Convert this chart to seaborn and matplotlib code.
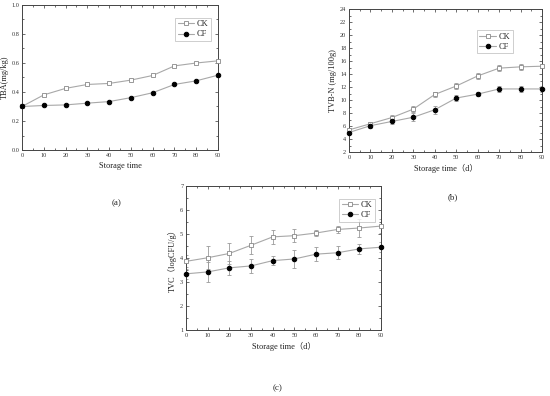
import numpy as np
import pandas as pd
import matplotlib
matplotlib.use("Agg")
import matplotlib.pyplot as plt
import seaborn as sns
from matplotlib.ticker import MultipleLocator

sns.set_theme(style="ticks")
plt.rcParams['font.family'] = ['Liberation Serif', 'Noto Sans CJK SC']

days = [0, 10, 20, 30, 40, 50, 60, 70, 80, 90]
groups = ["CK", "CF"]

tba_ck = [0.30, 0.38, 0.425, 0.452, 0.459, 0.482, 0.514, 0.580, 0.600, 0.615]
tba_cf = [0.30, 0.307, 0.311, 0.323, 0.334, 0.361, 0.395, 0.452, 0.477, 0.516]

tvbn_ck = [5.4, 6.35, 7.3, 8.6, 10.85, 12.15, 13.7, 14.9, 15.1, 15.2]
tvbn_cf = [5.0, 6.05, 6.7, 7.35, 8.5, 10.3, 10.9, 11.7, 11.7, 11.7]
tvbn_ck_err = [0.3, 0.3, 0.4, 0.5, 0.35, 0.4, 0.4, 0.45, 0.45, 0.3]
tvbn_cf_err = [0.3, 0.3, 0.35, 0.6, 0.6, 0.4, 0.3, 0.5, 0.4, 0.4]

tvc_ck = [3.86, 4.01, 4.19, 4.53, 4.88, 4.93, 5.04, 5.19, 5.25, 5.33]
tvc_cf = [3.34, 3.42, 3.59, 3.67, 3.89, 3.96, 4.16, 4.22, 4.38, 4.45]
tvc_ck_err = [0.25, 0.47, 0.45, 0.38, 0.28, 0.27, 0.14, 0.13, 0.38, 0.3]
tvc_cf_err = [0.2, 0.41, 0.3, 0.3, 0.2, 0.36, 0.29, 0.27, 0.2, 0.2]

line_col = "#a8a8a8"
FIG_W, FIG_H = 550, 396
fig = plt.figure(figsize=(5.5, 3.96), dpi=100)
fig.patch.set_facecolor("white")


def px_axes(x0, y0, x1, y1):
    return fig.add_axes([x0 / FIG_W, 1 - y1 / FIG_H, (x1 - x0) / FIG_W, (y1 - y0) / FIG_H])


def draw(ax, ck, cf, ck_err, cf_err, ylim, ymaj, ymin, ylabel, xlabel, legend_loc, fmt):
    df = pd.DataFrame({
        "day": days * 2,
        "value": list(ck) + list(cf),
        "group": ["CK"] * len(days) + ["CF"] * len(days),
    })
    if ck_err is not None:
        ax.errorbar(days, ck, yerr=ck_err, fmt="none", ecolor="#9a9a9a", elinewidth=0.6,
                    capsize=1.2, capthick=0.6, zorder=1)
        ax.errorbar(days, cf, yerr=cf_err, fmt="none", ecolor="#9a9a9a", elinewidth=0.6,
                    capsize=1.2, capthick=0.6, zorder=1)
    sns.lineplot(data=df, x="day", y="value", hue="group", style="group",
                 hue_order=groups, style_order=groups,
                 palette={"CK": line_col, "CF": line_col},
                 markers={"CK": "s", "CF": "o"}, dashes=False,
                 linewidth=0.8, markersize=3.2, ax=ax, zorder=3, clip_on=False)
    # marker styling
    lines = ax.get_lines()
    for ln in lines:
        if ln.get_marker() == "s":
            ln.set_markerfacecolor("white")
            ln.set_markeredgecolor("#888888")
            ln.set_markeredgewidth(0.6)
        elif ln.get_marker() == "o":
            ln.set_markerfacecolor("black")
            ln.set_markeredgecolor("black")
    ax.set_xlim(0, 90)
    ax.set_ylim(*ylim)
    ax.xaxis.set_major_locator(MultipleLocator(10))
    ax.xaxis.set_minor_locator(MultipleLocator(5))
    ax.yaxis.set_major_locator(MultipleLocator(ymaj))
    ax.yaxis.set_minor_locator(MultipleLocator(ymin))
    ax.yaxis.set_major_formatter(plt.FormatStrFormatter(fmt))
    ax.tick_params(which="both", direction="in", top=True, right=True, labeltop=False,
                   labelright=False, colors="#333333", labelsize=4.5, pad=2, width=0.5)
    ax.tick_params(which="major", length=2.2)
    ax.tick_params(which="minor", length=1.2)
    for s in ax.spines.values():
        s.set_linewidth(0.7)
        s.set_color("#444444")
        s.set_visible(True)
    ax.set_xlabel(xlabel, fontsize=6, labelpad=3, color="#222222")
    ax.set_ylabel(ylabel, fontsize=6, labelpad=2, color="#222222")
    # legend
    h, l = ax.get_legend_handles_labels()
    for hh in h:
        if hh.get_marker() == "s":
            hh.set_markerfacecolor("white"); hh.set_markeredgecolor("#888888")
        elif hh.get_marker() == "o":
            hh.set_markerfacecolor("black"); hh.set_markeredgecolor("black")
    leg = ax.legend(h, l, loc="upper right", bbox_to_anchor=legend_loc, fontsize=6,
                    frameon=True, fancybox=False, edgecolor="#aaaaaa", handlelength=2.0,
                    handletextpad=0.3, borderpad=0.3, labelspacing=0.25)
    leg.get_frame().set_linewidth(0.5)


ax_a = px_axes(22, 5, 218, 150)
draw(ax_a, tba_ck, tba_cf, None, None, (0, 1.0), 0.2, 0.1,
     "TBA(mg/kg)", "Storage time", (0.985, 0.94), "%.1f")

ax_b = px_axes(349, 9, 542, 152)
draw(ax_b, tvbn_ck, tvbn_cf, tvbn_ck_err, tvbn_cf_err, (2, 24), 2, 1,
     "TVB-N (mg/100g)", "Storage time（d）", (0.87, 0.88), "%d")

ax_c = px_axes(186, 186, 381, 330)
draw(ax_c, tvc_ck, tvc_cf, tvc_ck_err, tvc_cf_err, (1, 7), 1, 0.5,
     "TVC（logCFU/g）", "Storage time（d）", (0.99, 0.94), "%d")

fig.text(117 / FIG_W, 1 - 203 / FIG_H, "(a)", ha="center", va="center", fontsize=6.5)
fig.text(453 / FIG_W, 1 - 197 / FIG_H, "(b)", ha="center", va="center", fontsize=6.5)
fig.text(278 / FIG_W, 1 - 388 / FIG_H, "(c)", ha="center", va="center", fontsize=6.5)

fig.savefig("out.png", dpi=100, facecolor="white")
